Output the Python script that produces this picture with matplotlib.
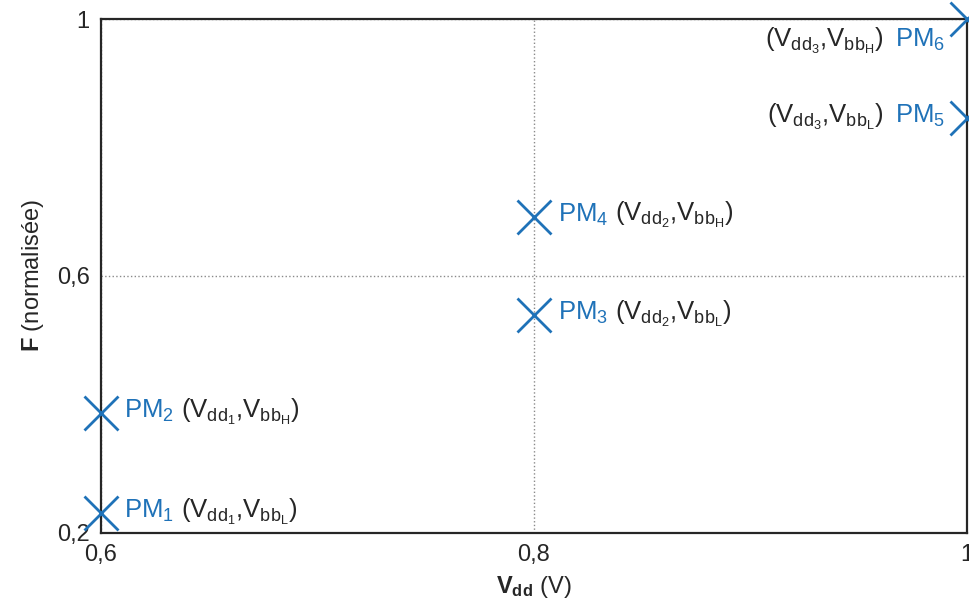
import matplotlib
matplotlib.use("Agg")
import matplotlib.pyplot as plt
from matplotlib.offsetbox import TextArea, HPacker, AnnotationBbox

plt.rcParams["font.family"] = ["Liberation Sans", "DejaVu Sans"]
plt.rcParams["mathtext.fontset"] = "custom"
plt.rcParams["mathtext.rm"] = "Liberation Sans"
plt.rcParams["mathtext.it"] = "Liberation Sans"
plt.rcParams["mathtext.bf"] = "Liberation Sans:bold"

# operating points
vdd = [0.6, 0.6, 0.8, 0.8, 1.0, 1.0]
freq = [0.231, 0.386, 0.539, 0.692, 0.846, 1.0]
pm_labels = [r"PM$_{1}$", r"PM$_{2}$", r"PM$_{3}$", r"PM$_{4}$", r"PM$_{5}$", r"PM$_{6}$"]
cond_labels = [
    r"($\mathrm{V_{dd_1}}$,$\mathrm{V_{bb_L}}$)",
    r"($\mathrm{V_{dd_1}}$,$\mathrm{V_{bb_H}}$)",
    r"($\mathrm{V_{dd_2}}$,$\mathrm{V_{bb_L}}$)",
    r"($\mathrm{V_{dd_2}}$,$\mathrm{V_{bb_H}}$)",
    r"($\mathrm{V_{dd_3}}$,$\mathrm{V_{bb_L}}$)",
    r"($\mathrm{V_{dd_3}}$,$\mathrm{V_{bb_H}}$)",
]
x_ticks = [0.6, 0.8, 1.0]
x_tick_labels = ["0,6", "0,8", "1"]
y_ticks = [0.2, 0.6, 1.0]
y_tick_labels = ["0,2", "0,6", "1"]

blue = "#1f72b8"
fs = 17
fs_note = 18.5

fig = plt.figure(figsize=(9.7, 6.14), dpi=100)
ax = fig.add_axes([0.104, 0.132, 0.893, 0.837])

ax.plot(vdd, freq, linestyle="none", marker="x", markersize=25,
        markeredgewidth=2, color=blue, clip_on=False, zorder=5)

for x, y, pm, cond in zip(vdd, freq, pm_labels, cond_labels):
    pm_area = TextArea(pm, textprops=dict(color=blue, fontsize=fs_note))
    cond_area = TextArea(cond, textprops=dict(color="#262626", fontsize=fs_note))
    if x < 0.99:
        pack = HPacker(children=[pm_area, cond_area], align="baseline", pad=0, sep=5)
        box = AnnotationBbox(pack, (x, y), xybox=(17, 0), boxcoords="offset points",
                             box_alignment=(0, 0.45), frameon=False, pad=0)
    else:
        pack = HPacker(children=[cond_area, pm_area], align="baseline", pad=0, sep=8)
        dy = -17 if y > 0.99 else 0
        box = AnnotationBbox(pack, (x, y), xybox=(-16, dy), boxcoords="offset points",
                             box_alignment=(1, 0.45), frameon=False, pad=0)
    ax.add_artist(box)

ax.set_xlim(0.6, 1.0)
ax.set_ylim(0.2, 1.0)
ax.set_xticks(x_ticks)
ax.set_xticklabels(x_tick_labels)
ax.set_yticks(y_ticks)
ax.set_yticklabels(y_tick_labels)
ax.tick_params(length=0, labelsize=fs, colors="#262626", pad=8)
ax.grid(True, linestyle=":", color="#8a8a8a", linewidth=1)

for spine in ax.spines.values():
    spine.set_linewidth(1.6)
    spine.set_color("#262626")

ax.set_xlabel(r"$\mathbf{V_{dd}}$ (V)", fontsize=fs, color="#262626", labelpad=6)
ax.set_ylabel(r"$\mathbf{F}$ (normalisée)", fontsize=fs, color="#262626", labelpad=8)

fig.savefig("out.png", dpi=100)
